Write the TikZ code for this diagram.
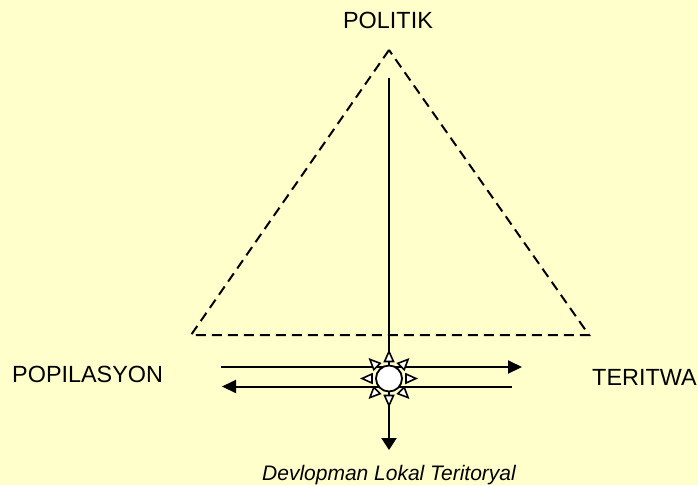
\documentclass[tikz,border=0pt]{standalone}
\usepackage{fontspec}
\setmainfont{Liberation Sans}
\usetikzlibrary{arrows.meta}
\definecolor{bg}{HTML}{FFFFCC}
\begin{document}
\begin{tikzpicture}[x=1pt,y=-1pt,
  lbl/.style={inner sep=0pt, font=\fontsize{23.4}{26}\selectfont},
  sublbl/.style={inner sep=0pt, font=\fontsize{21}{24}\selectfont\itshape},
  hconn/.style={line width=2pt, -{Triangle[length=14pt,width=13pt]}},
  vconn/.style={line width=2pt, -{Triangle[length=12pt,width=15pt]}},
  tri/.style={line width=2pt, dash pattern=on 10pt off 6pt},
  sunbox/.style={circle, draw, fill=white, line width=1.8pt, minimum size=26pt, inner sep=0pt},
  ray/.style={draw, fill=white, line width=1.6pt, line join=miter}]
\fill[bg] (0,0) rectangle (698,485);
\useasboundingbox (0,0) rectangle (698,485);

% labels
\node[lbl, anchor=base] (pol) at (388,28.3) {POLITIK};
\node[lbl, anchor=base west] (pop) at (12,382) {POPILASYON};
\node[lbl, anchor=base west] (ter) at (592,385) {TERITWA};
\node[sublbl, anchor=base] (dev) at (389,480) {Devlopman Lokal Teritoryal};

% triangle corners
\coordinate (apex) at (389,50);
\coordinate (bl) at (191,335);
\coordinate (br) at (589,335);
\draw[tri] (apex) -- (bl) -- (br) -- cycle;

% connector ends
\coordinate (vtop) at (389,78);
\coordinate (vbot) at (389,450);
\coordinate (ha) at (221,367);
\coordinate (hb) at (522,367);
\coordinate (hc) at (512,386.5);
\coordinate (hd) at (222,386.5);

\draw[vconn] (vtop) -- (vbot);
\draw[hconn] (ha) -- (hb);
\draw[hconn] (hc) -- (hd);

% sun
\coordinate (suncenter) at (389,378.5);
\foreach \a in {0,45,...,315}{
  \draw[ray, shift={(suncenter)}, rotate=\a] (27,0) -- (17,4.5) -- (17,-4.5) -- cycle;
}
\node[sunbox] (sun) at (suncenter) {};
\end{tikzpicture}
\end{document}
